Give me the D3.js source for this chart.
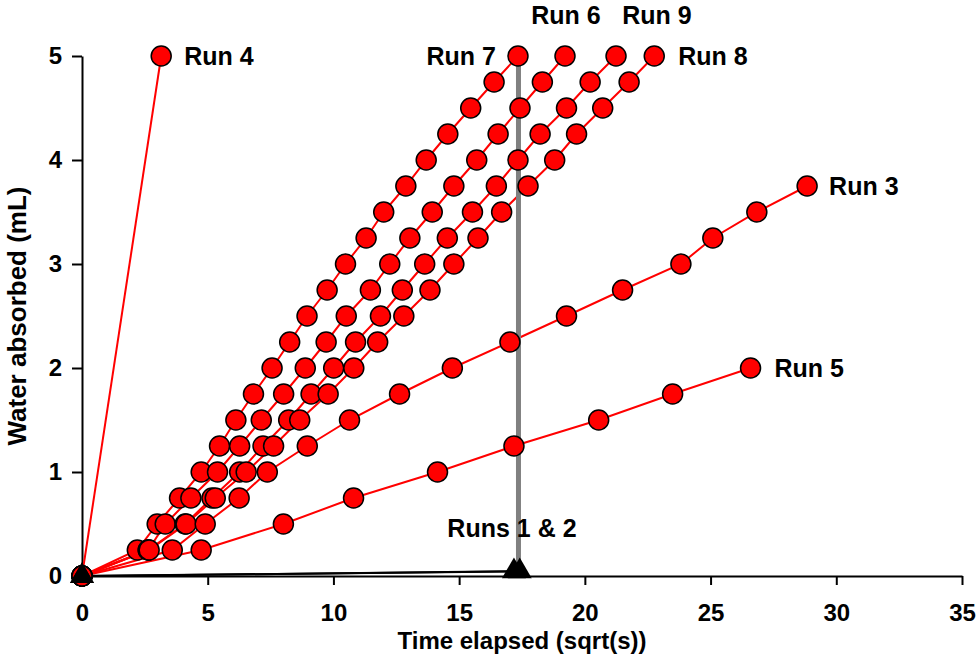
<!DOCTYPE html>
<html>
<head>
<meta charset="utf-8">
<script src="https://cdn.jsdelivr.net/npm/d3@7"></script>
<style>
  body { margin: 0; background: #fff; }
  text { font-family: "Liberation Sans", Arial, sans-serif; font-weight: bold; }
</style>
</head>
<body>
<script>
// water uptake, x in sqrt(s), y in mL
var xTicks = [0, 5, 10, 15, 20, 25, 30, 35];
var yTicks = [0, 1, 2, 3, 4, 5];

var yTo5 = [0, 0.25, 0.5, 0.75, 1, 1.25, 1.5, 1.75, 2, 2.25, 2.5, 2.75, 3, 3.25, 3.5, 3.75, 4, 4.25, 4.5, 4.75, 5];
var yTo375 = [0, 0.25, 0.5, 0.75, 1, 1.25, 1.5, 1.75, 2, 2.25, 2.5, 2.75, 3, 3.25, 3.5, 3.75];
var yTo2 = [0, 0.25, 0.5, 0.75, 1, 1.25, 1.5, 1.75, 2];

var run7X = [0, 2.20, 2.99, 3.88, 4.74, 5.47, 6.12, 6.82, 7.56, 8.26, 8.95, 9.75, 10.48, 11.30, 12.00, 12.88, 13.69, 14.55, 15.46, 16.39, 17.34];
var run6X = [0, 2.64, 3.31, 4.33, 5.39, 6.27, 7.13, 8.02, 8.88, 9.71, 10.51, 11.47, 12.24, 13.04, 13.93, 14.79, 15.70, 16.55, 17.42, 18.31, 19.21];
var run9X = [0, 2.63, 4.10, 5.17, 6.27, 7.20, 8.22, 9.11, 10.01, 10.88, 11.87, 12.74, 13.63, 14.53, 15.53, 16.48, 17.34, 18.22, 19.27, 20.21, 21.24];
var run8X = [0, 2.67, 4.14, 5.30, 6.53, 7.62, 8.66, 9.79, 10.81, 11.76, 12.80, 13.84, 14.79, 15.75, 16.69, 17.74, 18.80, 19.67, 20.71, 21.76, 22.76];
var run3X = [0, 3.59, 4.90, 6.25, 7.37, 8.96, 10.64, 12.63, 14.73, 17.02, 19.27, 21.50, 23.82, 25.09, 26.84, 28.84];
var run5X = [0, 4.74, 8.01, 10.80, 14.14, 17.18, 20.55, 23.49, 26.59];
var run4X = [0, 3.15];
var run4Y = [0, 5];
var run1X = [0, 17.18];
var run1Y = [0, 0.045];
var run2X = [0, 17.41];
var run2Y = [0, 0.045];
var markX = [17.36, 17.36];
var markY = [0, 5];

var zip = function(xs, ys) {
    return xs.map(function(x, i) { return [x, ys[i]]; });
};

var redRuns = [
    zip(run4X, run4Y),
    zip(run7X, yTo5),
    zip(run6X, yTo5),
    zip(run9X, yTo5),
    zip(run8X, yTo5),
    zip(run3X, yTo375),
    zip(run5X, yTo2)
];
var blackRuns = [zip(run1X, run1Y), zip(run2X, run2Y)];

// label offsets are in pixels from the run's last point
var labels = [
    { text: "Run 4", run: redRuns[0], dx: 23, dy: 0, anchor: "start" },
    { text: "Run 7", run: redRuns[1], dx: -22, dy: 0, anchor: "end" },
    { text: "Run 6", run: redRuns[2], dx: 1, dy: -41, anchor: "middle" },
    { text: "Run 9", run: redRuns[3], dx: 41, dy: -41, anchor: "middle" },
    { text: "Run 8", run: redRuns[4], dx: 24, dy: 0, anchor: "start" },
    { text: "Run 3", run: redRuns[5], dx: 22, dy: 0, anchor: "start" },
    { text: "Run 5", run: redRuns[6], dx: 24, dy: 0, anchor: "start" },
    { text: "Runs 1 & 2", run: blackRuns[0], dx: -2, dy: -43, anchor: "middle" }
];

var width = 980, height = 661;

var svg = d3.select("body").append("svg")
    .attr("width", width)
    .attr("height", height);

var x = d3.scaleLinear().domain([0, 35]).range([82, 962]);
var y = d3.scaleLinear().domain([0, 5]).range([576, 56]);

var line = d3.line()
    .x(function(d) { return x(d[0]); })
    .y(function(d) { return y(d[1]); });

// axes
var xAxis = svg.append("g")
    .attr("transform", "translate(0," + y(0) + ")")
    .call(d3.axisBottom(x).tickValues(xTicks).tickFormat(d3.format("d"))
        .tickSizeInner(9).tickSizeOuter(0).tickPadding(19));
var yAxis = svg.append("g")
    .attr("transform", "translate(" + x(0) + ",0)")
    .call(d3.axisLeft(y).tickValues(yTicks).tickFormat(d3.format("d"))
        .tickSizeInner(10).tickSizeOuter(0).tickPadding(10));

[xAxis, yAxis].forEach(function(a) {
    a.select(".domain").attr("stroke", "#000").attr("stroke-width", 2);
    a.selectAll(".tick line").attr("stroke", "#000").attr("stroke-width", 2);
    a.selectAll(".tick text")
        .attr("fill", "#000")
        .style("font-size", "24px")
        .style("font-family", "'Liberation Sans', Arial, sans-serif")
        .style("font-weight", "bold");
});

svg.append("text")
    .attr("x", (x(0) + x(35)) / 2)
    .attr("y", 649)
    .attr("text-anchor", "middle")
    .style("font-size", "24px")
    .text("Time elapsed (sqrt(s))");

svg.append("text")
    .attr("transform", "translate(26," + (y(0) + y(5)) / 2 + ") rotate(-90)")
    .attr("text-anchor", "middle")
    .style("font-size", "26px")
    .text("Water absorbed (mL)");

// all lines first, markers on top
svg.selectAll(".redline").data(redRuns).enter().append("path")
    .attr("class", "redline")
    .attr("d", line)
    .attr("fill", "none")
    .attr("stroke", "#ff0000")
    .attr("stroke-width", 2);

svg.selectAll(".blackline").data(blackRuns).enter().append("path")
    .attr("class", "blackline")
    .attr("d", line)
    .attr("fill", "none")
    .attr("stroke", "#000")
    .attr("stroke-width", 2);

svg.append("path")
    .attr("d", line(zip(markX, markY)))
    .attr("stroke", "#808080")
    .attr("stroke-width", 5);

redRuns.forEach(function(run) {
    svg.append("g").selectAll("circle").data(run).enter().append("circle")
        .attr("cx", function(d) { return x(d[0]); })
        .attr("cy", function(d) { return y(d[1]); })
        .attr("r", 10)
        .attr("fill", "#ff0000")
        .attr("stroke", "#000")
        .attr("stroke-width", 1.5);
});

var tri = d3.symbol().type(d3.symbolTriangle).size(250);
blackRuns.forEach(function(run) {
    svg.append("g").selectAll("path").data(run).enter().append("path")
        .attr("d", tri)
        .attr("transform", function(d) { return "translate(" + x(d[0]) + "," + y(d[1]) + ")"; })
        .attr("fill", "#000");
});

svg.selectAll(".runlabel").data(labels).enter().append("text")
    .attr("class", "runlabel")
    .attr("x", function(d) { return x(d.run[d.run.length - 1][0]) + d.dx; })
    .attr("y", function(d) { return y(d.run[d.run.length - 1][1]) + d.dy; })
    .attr("dy", "0.36em")
    .attr("text-anchor", function(d) { return d.anchor; })
    .style("font-size", "25px")
    .text(function(d) { return d.text; });
</script>
</body>
</html>
